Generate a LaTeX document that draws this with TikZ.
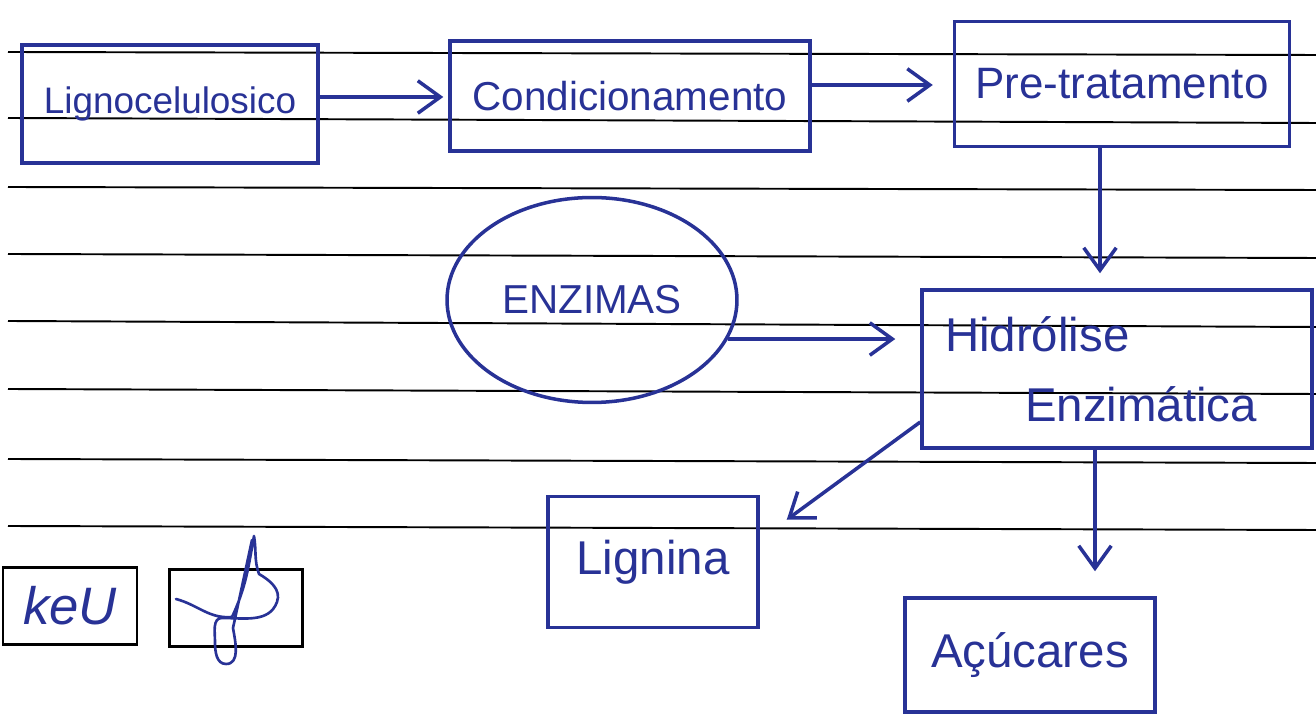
\documentclass[tikz,border=0pt]{standalone}
\usepackage{fontspec}
\setmainfont{Liberation Sans}
\usetikzlibrary{arrows.meta,shapes.geometric,calc}
\definecolor{pen}{RGB}{40,50,150}
\begin{document}
\begin{tikzpicture}[x=0.02cm,y=-0.02cm,
  box/.style={draw=pen,line width=2pt,rectangle,inner sep=0pt,text=pen,font=\fontsize{23}{28}\selectfont},
  blob/.style={draw=pen,line width=2pt,ellipse,inner sep=0pt,text=pen,font=\fontsize{23}{28}\selectfont},
  arr/.style={draw=pen,line width=2pt,-{Straight Barb[length=0.45cm,width=0.65cm]}},
  rule/.style={draw=black,line width=1.1pt},
  stamp/.style={draw=black,line width=1.4pt,rectangle,inner sep=0pt,minimum width=2.68cm,minimum height=1.54cm,text=pen},
  sig/.style={draw=pen,line width=1.5pt,line cap=round,line join=round}
]
\useasboundingbox (0,0) rectangle (1316,715);
% ruled paper
\draw[rule] (8,52) -- (1316,55);
\draw[rule] (8,118) -- (1316,123);
\draw[rule] (8,187) -- (1316,190);
\draw[rule] (8,254) -- (1316,258);
\draw[rule] (8,321) -- (1316,327);
\draw[rule] (8,389) -- (1316,394);
\draw[rule] (8,459) -- (1316,463);
\draw[rule] (8,526) -- (1316,530);
% nodes
\node[box,minimum width=5.92cm,minimum height=2.36cm,font=\fontsize{21}{26}\selectfont] (lig) at (170,104) {Lignocelulosico};
\node[box,minimum width=7.2cm,minimum height=2.2cm] (cond) at (630,96) {Condicionamento};
\node[box,minimum width=6.7cm,minimum height=2.5cm,font=\fontsize{25}{30}\selectfont] (pre) at (1122,84) {Pre-tratamento};
\node[blob,minimum width=5.8cm,minimum height=4.1cm] (enz) at (592,300) {ENZIMAS};
\node[box,minimum width=7.8cm,minimum height=3.16cm,text width=6.88cm,align=left,font=\fontsize{27}{40}\selectfont] (hid) at (1117,369) {Hidrólise\\\hspace*{1.6cm}Enzimática};
\node[box,minimum width=4.2cm,minimum height=2.62cm,font=\fontsize{27}{32}\selectfont] (lign) at (653,562) {Lignina};
\node[box,minimum width=5cm,minimum height=2.28cm,font=\fontsize{27}{32}\selectfont] (acu) at (1030,655) {Açúcares};
% connectors
\draw[arr,shorten >=0.1cm] (lig.east |- 0,97) -- (cond.west |- 0,97);
\draw[arr,shorten >=0.4cm] (cond.east |- 0,85) -- (pre.west |- 0,85);
\draw[arr,shorten >=0.3cm] (pre.south -| 1100,0) -- (hid.north -| 1100,0);
\draw[arr,shorten >=0.5cm] (enz.-16) -- (enz.-16 -| hid.west);
\draw[arr] (hid.west |- 0,422) -- ($(lign.north east)+(27,25)$);
\draw[arr,shorten >=0.5cm] (hid.south -| 1095,0) -- (acu.north -| 1095,0);
% initials and signature boxes
\node[stamp,font=\itshape\fontsize{30}{34}\selectfont] (rub) at (70,606) {keU};
\node[stamp,minimum width=2.66cm] (assin) at (236,608) {};
\draw[sig] (176,599) to[out=-15,in=185] (232,617) to[out=65,in=-100] (254,536)
  to[out=-80,in=110] (259,574) to[out=-30,in=70] (277,602) to[out=-110,in=0] (222,618)
  to[out=180,in=90] (215,642) to[out=-90,in=180] (226,664) to[out=0,in=-80] (233,628)
  -- (252,540);
\end{tikzpicture}
\end{document}
